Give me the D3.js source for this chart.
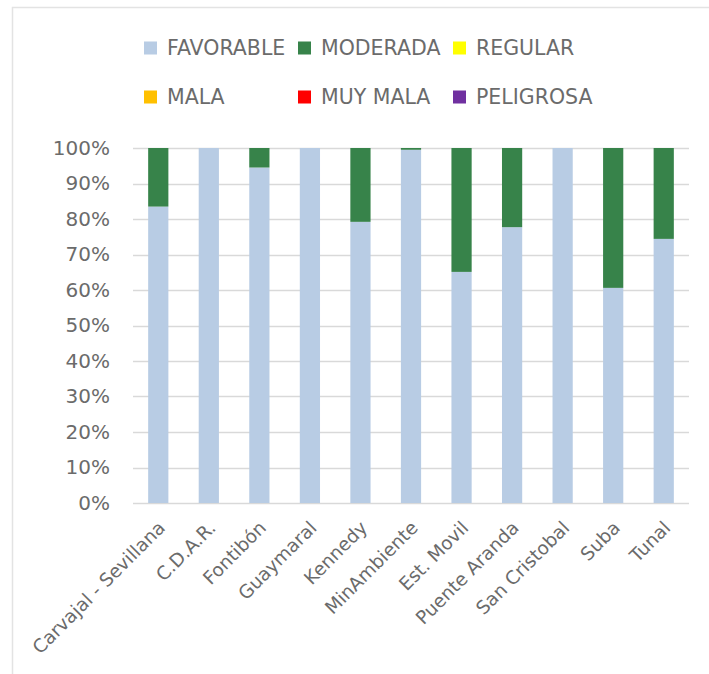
<!DOCTYPE html>
<html>
<head>
<meta charset="utf-8">
<script src="https://cdn.jsdelivr.net/npm/d3@7"></script>
<style>
  body { margin: 0; background: #fff; }
  text { font-family: "DejaVu Sans", sans-serif; }
</style>
</head>
<body>
<svg id="chart"></svg>
<script>
const estaciones = ["Carvajal - Sevillana", "C.D.A.R.", "Fontibón", "Guaymaral", "Kennedy",
    "MinAmbiente", "Est. Movil", "Puente Aranda", "San Cristobal", "Suba", "Tunal"];

const categorias = ["FAVORABLE", "MODERADA", "REGULAR", "MALA", "MUY MALA", "PELIGROSA"];
const colores = ["#b8cce4", "#37834a", "#ffff00", "#ffc000", "#ff0000", "#7030a0"];

// porcentaje de horas por categoria
const favorable = [83.5, 100, 94.5, 100, 79.2, 99.5, 65.1, 77.7, 100, 60.6, 74.4];
const moderada  = [16.5, 0, 5.5, 0, 20.8, 0.5, 34.9, 22.3, 0, 39.4, 25.6];
const regular   = [0, 0, 0, 0, 0, 0, 0, 0, 0, 0, 0];
const mala      = [0, 0, 0, 0, 0, 0, 0, 0, 0, 0, 0];
const muyMala   = [0, 0, 0, 0, 0, 0, 0, 0, 0, 0, 0];
const peligrosa = [0, 0, 0, 0, 0, 0, 0, 0, 0, 0, 0];

const yTicks = [0, 0.1, 0.2, 0.3, 0.4, 0.5, 0.6, 0.7, 0.8, 0.9, 1];

const width = 709;
const height = 674;
const marginTop = 148;
const marginRight = 20;
const marginBottom = 171;
const marginLeft = 133;
const textColor = "#6b6b6b";

const series = [favorable, moderada, regular, mala, muyMala, peligrosa];
const tabla = estaciones.map((e, i) => {
    const row = { estacion: e };
    categorias.forEach((c, j) => row[c] = series[j][i]);
    return row;
});

const svg = d3.select("#chart")
    .attr("width", width)
    .attr("height", height);

// marco
svg.append("path")
    .attr("d", `M12.5,${height} V7.5 H${width}`)
    .attr("fill", "none")
    .attr("stroke", "#e3e3e3")
    .attr("stroke-width", 1.5);

const x = d3.scaleBand()
    .domain(estaciones)
    .range([marginLeft, width - marginRight])
    .paddingInner(0.6)
    .paddingOuter(0.3);

const y = d3.scaleLinear()
    .domain([0, 1])
    .range([height - marginBottom, marginTop]);

// grid
svg.append("g")
    .selectAll("line")
    .data(yTicks)
    .join("line")
    .attr("x1", marginLeft)
    .attr("x2", width - marginRight)
    .attr("y1", d => Math.round(y(d)) + 0.5)
    .attr("y2", d => Math.round(y(d)) + 0.5)
    .attr("stroke", "#d9d9d9")
    .attr("stroke-width", 1.5);

const stack = d3.stack()
    .keys(categorias)
    .offset(d3.stackOffsetExpand);

const capas = stack(tabla);

svg.append("g")
    .selectAll("g")
    .data(capas)
    .join("g")
    .attr("fill", (d, i) => colores[i])
    .selectAll("rect")
    .data(d => d)
    .join("rect")
    .attr("x", d => x(d.data.estacion))
    .attr("y", d => y(d[1]))
    .attr("height", d => y(d[0]) - y(d[1]))
    .attr("width", x.bandwidth());

// eje y
const yAxis = svg.append("g")
    .attr("transform", `translate(${marginLeft},0)`)
    .call(d3.axisLeft(y).tickValues(yTicks).tickFormat(d3.format(".0%")).tickSize(0).tickPadding(23));
yAxis.select(".domain").remove();
yAxis.selectAll("text")
    .attr("fill", textColor)
    .style("font-size", "20px");

// eje x
const xAxis = svg.append("g")
    .attr("transform", `translate(0,${height - marginBottom})`)
    .call(d3.axisBottom(x).tickSize(0));
xAxis.select(".domain").remove();
xAxis.selectAll("text")
    .attr("fill", textColor)
    .style("font-size", "18.5px")
    .attr("text-anchor", "end")
    .attr("x", 0)
    .attr("y", 0)
    .attr("dy", 0)
    .attr("transform", "translate(8,26) rotate(-45)");

// leyenda
const legendX = [143, 297, 452];
const legendY = [48, 97];
const leyenda = svg.append("g")
    .selectAll("g")
    .data(categorias)
    .join("g")
    .attr("transform", (d, i) => `translate(${legendX[i % 3]},${legendY[Math.floor(i / 3)]})`);

leyenda.append("rect")
    .attr("x", 1)
    .attr("y", -6.5)
    .attr("width", 13)
    .attr("height", 13)
    .attr("fill", (d, i) => colores[i]);

leyenda.append("text")
    .attr("x", 24)
    .attr("dy", "0.36em")
    .attr("fill", textColor)
    .style("font-size", "20.5px")
    .text(d => d);
</script>
</body>
</html>
